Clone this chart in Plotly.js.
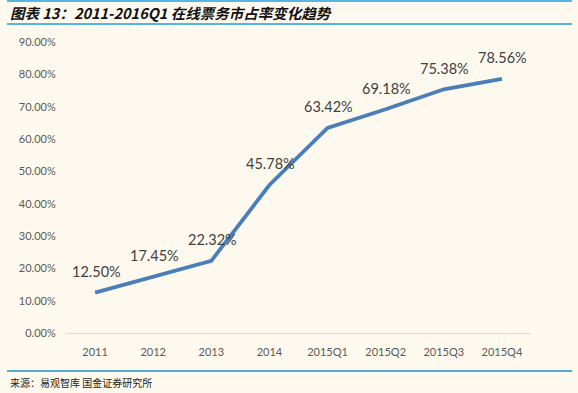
<!DOCTYPE html>
<html>
<head>
<meta charset="utf-8">
<script src="https://cdn.plot.ly/plotly-3.0.1.min.js"></script>
<style>
html,body{margin:0;padding:0;background:#FEF9EF;}
#chart{width:578px;height:393px;}
</style>
</head>
<body>
<div id="chart"></div>
<script>
const categories = ["2011","2012","2013","2014","2015Q1","2015Q2","2015Q3","2015Q4"];
const shareValues = [0.1250,0.1745,0.2232,0.4578,0.6342,0.6918,0.7538,0.7856];
const valueLabels = ["12.50%","17.45%","22.32%","45.78%","63.42%","69.18%","75.38%","78.56%"];
const yTickValues = [0,0.1,0.2,0.3,0.4,0.5,0.6,0.7,0.8,0.9];
const yTickLabels = ["0.00%","10.00%","20.00%","30.00%","40.00%","50.00%","60.00%","70.00%","80.00%","90.00%"];
const chartTitle = "图表 13：2011-2016Q1 在线票务市占率变化趋势";
const sourceNote = "来源：易观智库 国金证券研究所";

const W = 578, H = 393;
const m = {l:66, r:47, t:42, b:60};
const pw = W - m.l - m.r, ph = H - m.t - m.b;
const px = x => (x - m.l) / pw;
const py = y => (H - m.b - y) / ph;

const trace = {
  type: 'scatter',
  mode: 'lines',
  x: categories,
  y: shareValues,
  line: {color: '#4A7EBB', width: 3.8},
  cliponaxis: false,
  hoverinfo: 'skip'
};

// category index positions on the category axis
const valueAnnotations = categories.map((c, i) => ({
  x: i, y: shareValues[i], xref: 'x', yref: 'y',
  text: valueLabels[i], showarrow: false,
  xanchor: 'center', yanchor: 'middle', yshift: 21, xshift: 1,
  font: {family: 'Lato, "Open Sans", sans-serif', size: 14.5, color: '#404040'}
}));

const lineColor = '#1AA0DF';
const layout = {
  width: W, height: H,
  margin: m,
  paper_bgcolor: '#FEF9EF',
  plot_bgcolor: '#FEF9EF',
  showlegend: false,
  font: {family: 'Lato, "Open Sans", sans-serif', color: '#595959'},
  xaxis: {
    type: 'category',
    range: [-0.5, 7.5],
    showgrid: false,
    zeroline: false,
    showline: true,
    linecolor: '#D9D9D9',
    linewidth: 1,
    ticks: 'outside', ticklen: 9, tickcolor: 'rgba(0,0,0,0)',
    tickfont: {size: 11, color: '#595959'},
    fixedrange: true
  },
  yaxis: {
    range: [0, 0.9],
    tickvals: yTickValues,
    ticktext: yTickLabels,
    showgrid: false,
    zeroline: false,
    showline: false,
    ticks: 'outside', ticklen: 7, tickcolor: 'rgba(0,0,0,0)',
    tickfont: {size: 11, color: '#595959'},
    fixedrange: true
  },
  shapes: [
    {type:'line', xref:'paper', yref:'paper', x0:px(7), x1:px(572), y0:py(1), y1:py(1), line:{color:lineColor, width:1.5}},
    {type:'line', xref:'paper', yref:'paper', x0:px(7), x1:px(572), y0:py(24), y1:py(24), line:{color:lineColor, width:1.5}},
    {type:'line', xref:'paper', yref:'paper', x0:px(7), x1:px(572), y0:py(371), y1:py(371), line:{color:'#1E90CC', width:1.5}}
  ],
  annotations: valueAnnotations.concat([
    {xref:'paper', yref:'paper', x:px(8), y:py(12.5), xanchor:'left', yanchor:'middle', showarrow:false,
     text:'<b><i>' + chartTitle + '</i></b>', font:{family:'"Noto Sans CJK SC", "Liberation Sans", sans-serif', size:14.5, color:'#111111'}},
    {xref:'paper', yref:'paper', x:px(8), y:py(382), xanchor:'left', yanchor:'middle', showarrow:false,
     text: sourceNote, font:{family:'"Noto Sans CJK SC", serif', size:10, color:'#222222'}}
  ])
};

Plotly.newPlot('chart', [trace], layout, {staticPlot: true, displayModeBar: false});
</script>
</body>
</html>
